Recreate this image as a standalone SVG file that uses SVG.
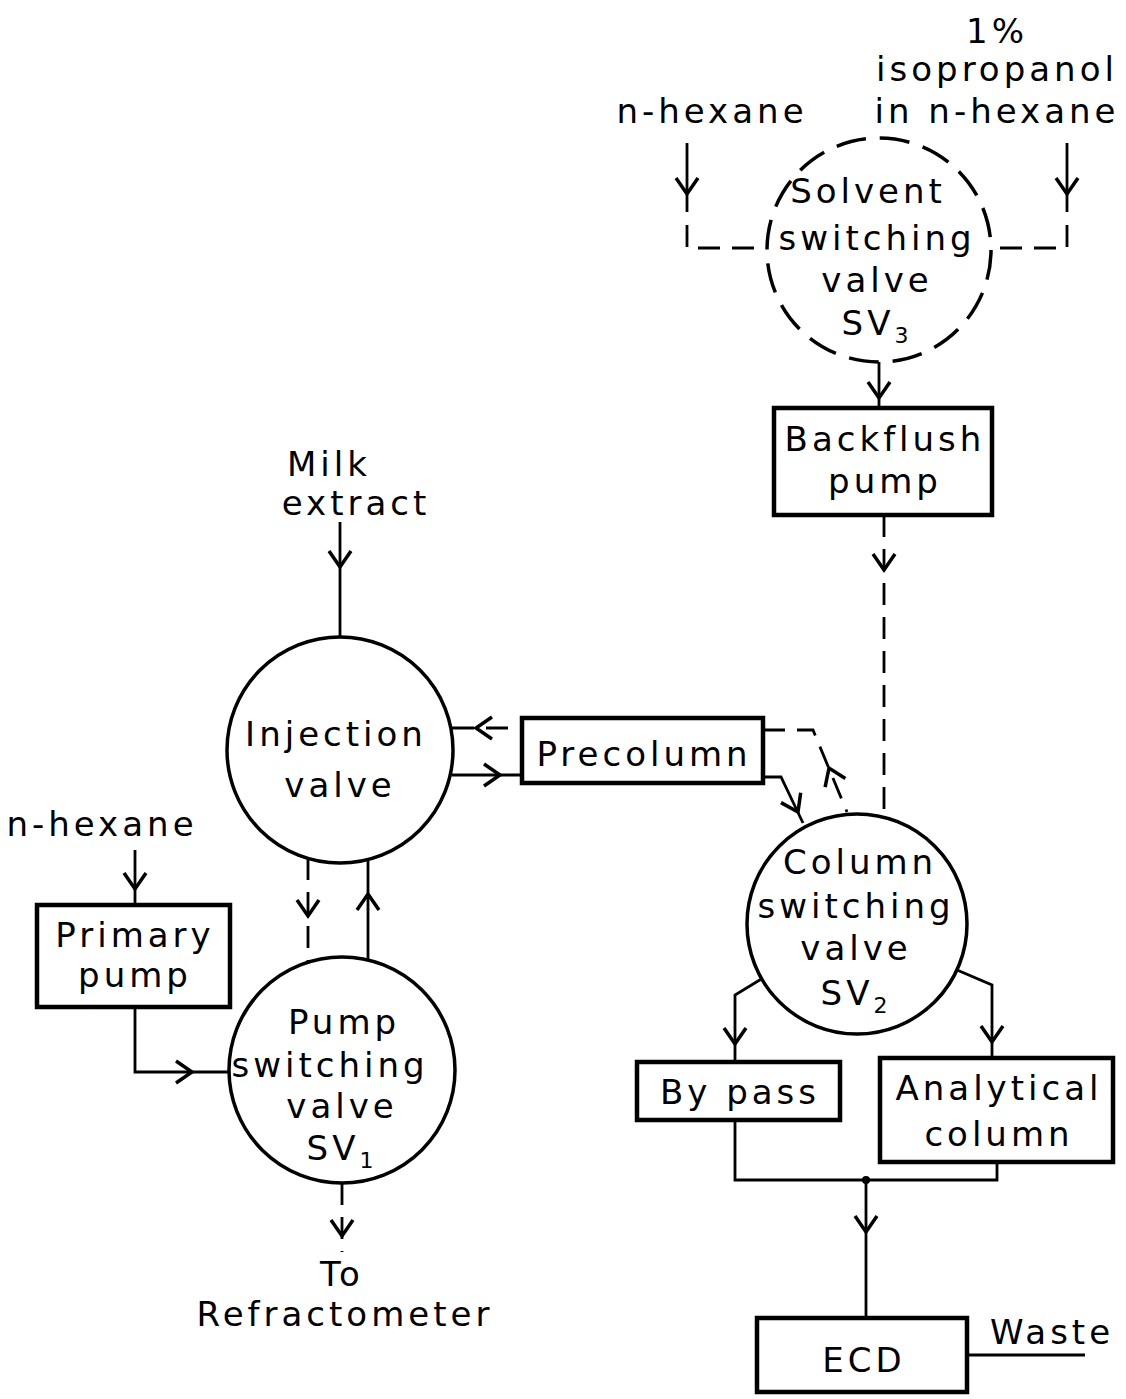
<svg xmlns="http://www.w3.org/2000/svg" width="1126" height="1399" viewBox="0 0 1126 1399">
<style>
text{font-family:"DejaVu Sans","Liberation Sans",sans-serif;font-size:34px;letter-spacing:4px;text-anchor:middle;fill:#000}
.box{fill:#fff;stroke:#000;stroke-width:4.5}
.valve{fill:#fff;stroke:#000;stroke-width:3.5}
.dvalve{fill:#fff;stroke:#000;stroke-width:3.5;stroke-dasharray:30 14}
.ln{fill:none;stroke:#000;stroke-width:2.8}
.dl{fill:none;stroke:#000;stroke-width:2.8;stroke-dasharray:22 12}
.sub{font-size:22px}
</style>
<defs>
<path id="ah" d="M-11,-16 L0,0 L11,-16" fill="none" stroke="#000" stroke-width="3.5"/>
</defs>
<rect width="1126" height="1399" fill="#fff"/>
<g id="connectors">
<path class="ln" d="M687,143 L687,212"/>
<path class="dl" d="M687,225 L687,248 L766,248"/>
<path class="ln" d="M1067,143 L1067,212"/>
<path class="dl" d="M1067,225 L1067,248 L992,248"/>
<path class="ln" d="M879,362 L879,408"/>
<path class="dl" d="M884,515 L884,816"/>
<path class="ln" d="M340,522 L340,637"/>
<path class="dl" d="M452,728 L522,728" stroke-dasharray="50 10"/>
<path class="ln" d="M452,775 L522,775"/>
<path class="dl" d="M763,730 L813,730 L847,812" stroke-dasharray="18 12"/>
<path class="ln" d="M763,777 L781,777 L803,823"/>
<path class="dl" d="M308,858 L308,962" stroke-dasharray="20 10"/>
<path class="ln" d="M368,859 L368,963"/>
<path class="ln" d="M135,850 L135,905"/>
<path class="ln" d="M135,1007 L135,1072 L229,1072"/>
<path class="dl" d="M342,1183 L342,1252" stroke-dasharray="16 10"/>
<path class="ln" d="M763,978 L735,995 L735,1062"/>
<path class="ln" d="M957,970 L992,985 L992,1058"/>
<path class="ln" d="M735,1120 L735,1180 L997,1180 L997,1162"/>
<path class="ln" d="M866,1180 L866,1318"/>
<circle cx="866" cy="1180" r="4"/>
<path class="ln" d="M967,1355 L1085,1355"/>
<use href="#ah" transform="translate(687,194)"/>
<use href="#ah" transform="translate(1067,194)"/>
<use href="#ah" transform="translate(879,398)"/>
<use href="#ah" transform="translate(884,570)"/>
<use href="#ah" transform="translate(340,567)"/>
<use href="#ah" transform="translate(476,728) rotate(90)"/>
<use href="#ah" transform="translate(500,775) rotate(-90)"/>
<use href="#ah" transform="translate(798,812) rotate(-26.6)"/>
<use href="#ah" transform="translate(829,768) rotate(157)"/>
<use href="#ah" transform="translate(308,916)"/>
<use href="#ah" transform="translate(368,894) rotate(180)"/>
<use href="#ah" transform="translate(135,889)"/>
<use href="#ah" transform="translate(192,1072) rotate(-90)"/>
<use href="#ah" transform="translate(342,1236)"/>
<use href="#ah" transform="translate(735,1044)"/>
<use href="#ah" transform="translate(992,1042)"/>
<use href="#ah" transform="translate(866,1232)"/>
</g>
<g id="label-n-hexane-top"><text x="712" y="123">n-hexane</text></g>
<g id="label-isopropanol">
<text x="997" y="43">1%</text>
<text x="997" y="81">isopropanol</text>
<text x="997" y="123">in n-hexane</text>
</g>
<g id="sv3">
<circle class="dvalve" cx="879" cy="250" r="112"/>
<text x="868" y="203">Solvent</text>
<text x="877" y="250">switching</text>
<text x="877" y="292">valve</text>
<text x="877" y="335">SV<tspan class="sub" dy="8">3</tspan></text>
</g>
<g id="backflush-pump">
<rect class="box" x="774" y="408" width="218" height="107"/>
<text x="885" y="451">Backflush</text>
<text x="885" y="493">pump</text>
</g>
<g id="label-milk">
<text x="329" y="476">Milk</text>
<text x="356" y="515">extract</text>
</g>
<g id="injection-valve">
<circle class="valve" cx="340" cy="750" r="113"/>
<text x="336" y="746">Injection</text>
<text x="340" y="797">valve</text>
</g>
<g id="precolumn">
<rect class="box" x="522" y="718" width="241" height="65"/>
<text x="644" y="766">Precolumn</text>
</g>
<g id="column-switching-valve">
<circle class="valve" cx="857" cy="924" r="110"/>
<text x="860" y="874">Column</text>
<text x="856" y="918">switching</text>
<text x="856" y="960">valve</text>
<text x="856" y="1005">SV<tspan class="sub" dy="8">2</tspan></text>
</g>
<g id="label-n-hexane-left"><text x="102" y="836">n-hexane</text></g>
<g id="primary-pump">
<rect class="box" x="37" y="905" width="193" height="102"/>
<text x="135" y="947">Primary</text>
<text x="135" y="987">pump</text>
</g>
<g id="pump-switching-valve">
<circle class="valve" cx="342" cy="1070" r="113"/>
<text x="344" y="1034">Pump</text>
<text x="330" y="1077">switching</text>
<text x="342" y="1118">valve</text>
<text x="342" y="1160">SV<tspan class="sub" dy="8">1</tspan></text>
</g>
<g id="label-refractometer">
<text x="342" y="1286">To</text>
<text x="345" y="1326">Refractometer</text>
</g>
<g id="bypass">
<rect class="box" x="637" y="1062" width="203" height="58"/>
<text x="740" y="1104">By pass</text>
</g>
<g id="analytical-column">
<rect class="box" x="880" y="1058" width="233" height="104"/>
<text x="999" y="1100">Analytical</text>
<text x="999" y="1146">column</text>
</g>
<g id="ecd">
<rect class="box" x="757" y="1318" width="210" height="74"/>
<text x="864" y="1372">ECD</text>
</g>
<g id="label-waste"><text x="1052" y="1344">Waste</text></g>
</svg>
